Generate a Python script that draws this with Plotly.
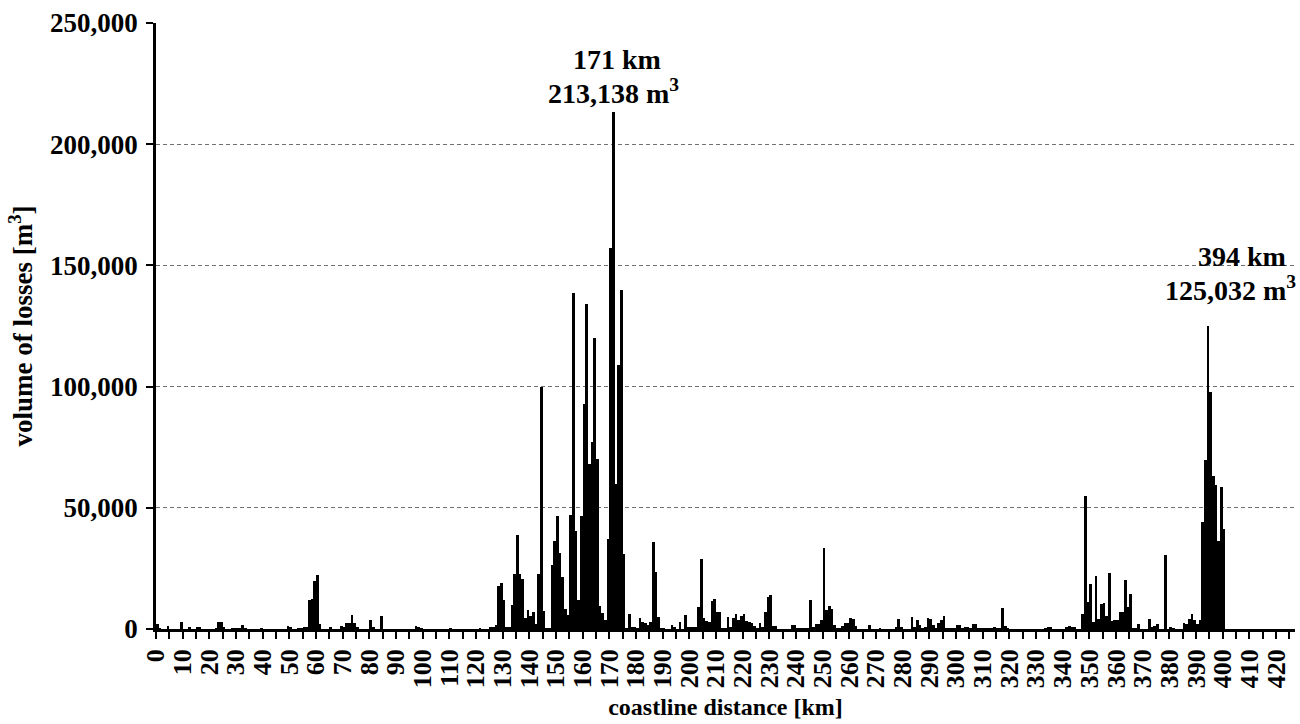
import plotly.graph_objects as go

# volume of losses [m3] per 1-km coastline segment, starting at km 0
losses = [
    2000, 300, 0, 0, 1400, 0, 0, 0, 0, 2900,            # 0-9
    0, 0, 500, 0, 0, 500, 500, 0, 0, 0,                  # 10-19
    0, 0, 300, 2900, 2900, 1000, 0, 0, 400, 400,         # 20-29
    400, 400, 1500, 400, 0, 0, 0, 0, 0, 300,             # 30-39
    0, 0, 0, 0, 0, 0, 0, 0, 0, 1300,                     # 40-49
    500, 0, 0, 300, 400, 500, 500, 11800, 12500, 20000,  # 50-59
    22200, 2200, 0, 0, 0, 500, 0, 0, 0, 1400,            # 60-69
    1000, 2500, 2500, 5900, 2500, 500, 0, 0, 0, 0,       # 70-79
    3800, 1000, 0, 0, 5500, 0, 0, 0, 0, 0,               # 80-89
    0, 0, 0, 0, 0, 0, 0, 1400, 700, 300,                 # 90-99
    0, 0, 0, 0, 0, 0, 0, 0, 0, 0,                        # 100-109
    300, 0, 0, 0, 0, 0, 0, 0, 0, 0,                      # 110-119
    0, 300, 0, 0, 0, 500, 1000, 1500, 17600, 19000,      # 120-129
    12100, 500, 500, 10000, 22500, 38600, 22500, 20700, 4500, 8000,       # 130-139
    5500, 6900, 2000, 22500, 99900, 7300, 300, 300, 26600, 36500,         # 140-149
    46600, 31400, 21300, 8300, 5900, 47200, 138800, 40400, 12100, 46600,  # 150-159
    93000, 134000, 68000, 77000, 120000, 70000, 9500, 6700, 3800, 37000,  # 160-169
    157000, 213138, 60000, 109000, 140000, 31000, 300, 6000, 1000, 800,   # 170-179
    300, 4500, 3000, 2400, 1700, 3000, 35700, 23700, 5000, 300,           # 180-189
    300, 0, 0, 1700, 500, 0, 2800, 0, 5700, 500,                          # 190-199
    500, 500, 500, 9200, 28700, 4400, 3500, 3000, 11500, 12200,           # 200-209
    7100, 7100, 300, 300, 4800, 1000, 4400, 6200, 3700, 5400,             # 210-219
    6200, 3300, 3000, 2300, 1200, 300, 2600, 700, 7100, 13300,            # 220-229
    14000, 1400, 1400, 0, 0, 0, 0, 0, 1600, 1600,                         # 230-239
    300, 300, 300, 300, 300, 12000, 700, 1900, 1900, 3700,                # 240-249
    33400, 7800, 9600, 8100, 1500, 300, 300, 1200, 2300, 2300,            # 250-259
    4400, 4100, 1200, 0, 0, 0, 0, 1500, 0, 0,                             # 260-269
    0, 300, 0, 0, 0, 0, 0, 1000, 4100, 700,                               # 270-279
    0, 0, 0, 5000, 1000, 3600, 1800, 300, 1000, 4400,                     # 280-289
    4100, 1800, 300, 2500, 3600, 5500, 300, 300, 300, 300,                # 290-299
    1600, 1600, 300, 1000, 700, 300, 1900, 1900, 300, 300,                # 300-309
    300, 300, 300, 300, 800, 300, 300, 8700, 1400, 400,                   # 310-319
    0, 0, 0, 0, 0, 0, 0, 0, 0, 0,                                         # 320-329
    0, 0, 0, 400, 1000, 1000, 0, 0, 0, 0,                                 # 330-339
    0, 500, 1100, 600, 600, 0, 0, 6300, 55000, 11200,                     # 340-349
    18500, 2900, 21900, 4300, 10200, 10700, 5200, 23100, 3200, 3600,      # 350-359
    3600, 7000, 7000, 20400, 9100, 14300, 300, 300, 2200, 0,              # 360-369
    0, 0, 4300, 500, 1100, 1900, 0, 0, 30400, 0,                          # 370-379
    500, 300, 0, 0, 0, 2500, 2200, 4100, 6200, 3900,                      # 380-389
    2200, 3600, 44200, 69800, 125032, 97800, 63300, 59500, 36300, 58700,  # 390-399
    41200, 0, 0, 0, 0, 0, 0, 0, 0, 0,                                     # 400-409
    0, 0, 0, 0, 0, 0, 0, 0, 0, 0,                                         # 410-419
    0, 0, 0, 0, 0, 0, 0,                                                  # 420-426
]
km = list(range(len(losses)))

x_tick_vals = list(range(0, 421, 10))
x_tick_text = [str(v) for v in x_tick_vals]
y_tick_vals = [0, 50000, 100000, 150000, 200000, 250000]
y_tick_text = ["0", "50,000", "100,000", "150,000", "200,000", "250,000"]

# (km, first line, second line, pixel shift x of line 1 / line 2, extra lift)
peak_labels = [
    (171, "171 km", "213,138 m<sup>3</sup>", 4, 0, 0),
    (394, "394 km", "125,032 m<sup>3</sup>", 34, 22, 17),
]

FONT = "Liberation Serif"
ann_font = dict(family=FONT, size=28, color="black", weight="bold")

fig = go.Figure()
fig.add_trace(go.Bar(
    x=km, y=losses, width=1, offset=0,
    marker=dict(color="black", line=dict(width=0)),
    hoverinfo="x+y",
))

for k, line1, line2, xs1, xs2, lift in peak_labels:
    i = km.index(k)
    fig.add_annotation(
        x=km[i] + 0.5, y=losses[i], text=line2, showarrow=False,
        xanchor="center", yanchor="bottom", yshift=1 + lift, xshift=xs2,
        font=ann_font,
    )
    fig.add_annotation(
        x=km[i] + 0.5, y=losses[i], text=line1, showarrow=False,
        xanchor="center", yanchor="bottom", yshift=35 + lift, xshift=xs1,
        font=ann_font,
    )

fig.update_layout(
    width=1300, height=724,
    margin=dict(l=156, r=5, t=23, b=95),
    paper_bgcolor="white", plot_bgcolor="white",
    bargap=0, showlegend=False,
    font=dict(family=FONT, color="black"),
)
fig.update_xaxes(
    range=[0, 427.1],
    tickmode="array", tickvals=x_tick_vals, ticktext=x_tick_text,
    tickangle=-90,
    tickfont=dict(family=FONT, size=26, color="black", weight="bold"),
    ticks="outside", ticklen=7, tickwidth=1.5, tickcolor="black",
    minor=dict(dtick=5, tick0=0, ticks="outside", ticklen=7, tickwidth=1.5, tickcolor="black"),
    showline=True, linecolor="black", linewidth=2.5,
    showgrid=False, zeroline=False,
    title=dict(text="coastline distance [km]", standoff=12,
               font=dict(family=FONT, size=24, color="black", weight="bold")),
)
fig.update_yaxes(
    range=[0, 250000],
    tickmode="array", tickvals=y_tick_vals, ticktext=y_tick_text,
    tickfont=dict(family=FONT, size=27, color="black", weight="bold"),
    ticks="outside", ticklen=7, tickwidth=2, tickcolor="black",
    ticklabelstandoff=3,
    showline=True, linecolor="black", linewidth=2.5,
    showgrid=True, gridcolor="#707070", gridwidth=1, griddash="4px,3px",
    zeroline=False,
    title=dict(text="volume of losses [m<sup>3</sup>]", standoff=10,
               font=dict(family=FONT, size=27, color="black", weight="bold")),
)

fig.write_html("out.html")
